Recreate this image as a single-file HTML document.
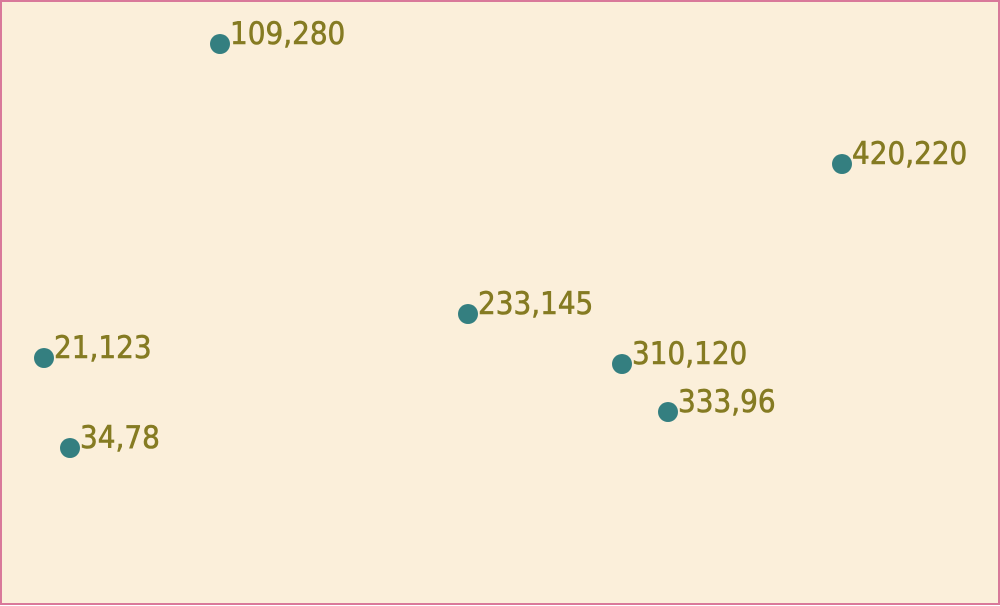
<!DOCTYPE html>
<html><head><meta charset="utf-8"><style>
html,body{margin:0;padding:0;background:#fff;}
svg{display:block;}
</style></head><body>
<svg id="chart" width="1000" height="606">
<rect x="1" y="1" width="998" height="603" fill="#fbefda" stroke="#d9799a" stroke-width="2"/>
<g id="pts"></g>
</svg>
<script>
const xValues = [109, 420, 233, 21, 310, 333, 34];
const yValues = [280, 220, 145, 123, 120, 96, 78];
const labels = ["109,280", "420,220", "233,145", "21,123", "310,120", "333,96", "34,78"];
function xScale(v){ return 2 + 2*v; }
function yScale(v){ return 604 - 2*v; }
const g = document.getElementById('pts');
const NS = 'http://www.w3.org/2000/svg';
for (let i = 0; i < xValues.length; i++) {
  const cx = xScale(xValues[i]), cy = yScale(yValues[i]);
  const c = document.createElementNS(NS, 'circle');
  c.setAttribute('cx', cx); c.setAttribute('cy', cy); c.setAttribute('r', 10);
  c.setAttribute('fill', '#347f80');
  
  
  g.appendChild(c);
  const t = document.createElementNS(NS, 'text');
  t.setAttribute('x', cx + 10); t.setAttribute('y', cy);
  t.setAttribute('fill', '#857b22');
  t.setAttribute('stroke', '#857b22');
  t.setAttribute('stroke-width', '0.6');
  t.setAttribute('font-family', '"DejaVu Sans Condensed", "DejaVu Sans", sans-serif');
  t.setAttribute('font-stretch', 'condensed');
  t.setAttribute('font-size', '31');
  t.textContent = labels[i];
  
  
  g.appendChild(t);
}
</script>
</body></html>
